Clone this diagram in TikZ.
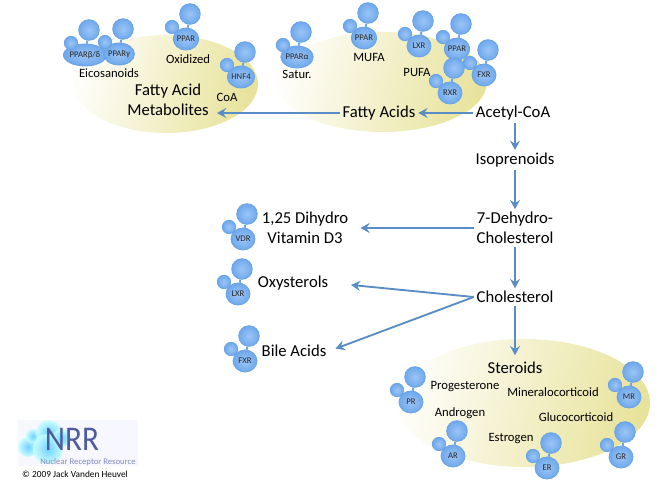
\documentclass[tikz,border=0pt]{standalone}
\usepackage{fontspec}
\setmainfont{Carlito}
\usetikzlibrary{shapes.geometric,arrows.meta}
\definecolor{recblue}{HTML}{6EA8EC}
\definecolor{reclight}{HTML}{9CC5F5}
\definecolor{recedge}{HTML}{6AA3E4}
\definecolor{pathblue}{HTML}{5A8CC6}
\definecolor{poolyellow}{HTML}{E8E39C}
\definecolor{logoink}{HTML}{4F5B9E}

% receptor: name, centre of body, label
\newcommand\receptor[3]{
    \node at (#2) [recbody] (#1) {#3};
    \node at ([shift={(4,-25)}]#1.center) [recbig] (#1big) {};
    \node at ([shift={(-14,-12)}]#1.center) [recsmall] (#1small) {};
    \draw[recedge, line width=1.4pt] (#1) -- (#1big);
}

\begin{document}
\begin{tikzpicture}[x=0.75pt, y=-0.75pt,
    recbody/.style={ellipse, draw=recedge, line width=0.6pt, inner color=reclight, outer color=recblue, minimum width=18pt, minimum height=16.5pt, inner sep=0pt, font=\fontsize{6.5}{6.5}\selectfont, text=black!85},
    recbig/.style={circle, draw=recedge, line width=0.6pt, inner color=reclight, outer color=recblue, minimum size=15.5pt, inner sep=0pt},
    recsmall/.style={circle, draw=recedge, line width=0.6pt, inner color=reclight, outer color=recblue, minimum size=10pt, inner sep=0pt},
    pool/.style={ellipse, shading=axis, left color=poolyellow!6, middle color=poolyellow!30, right color=poolyellow, shading angle=75, inner sep=0pt},
    met/.style={font=\fontsize{12.5}{15}\selectfont, align=center, inner sep=2pt},
    lig/.style={font=\fontsize{9.5}{11}\selectfont, inner sep=0pt},
    path/.style={-{Stealth[length=7pt, width=7.5pt, inset=2.5pt]}, pathblue, line width=1.4pt}]
    \useasboundingbox (0,0) rectangle (660,485);

    %Pools
    \node at (166,84) [pool, minimum width=138pt, minimum height=73.5pt] (metpool) {};
    \node at (382,82) [pool, minimum width=157.5pt, minimum height=75pt] (acidpool) {};
    \node at (524,403) [pool, minimum width=189pt, minimum height=96pt] (steroidpool) {};

    %Receptors
    \foreach \name/\px/\py/\txt in {pbd/85/55/{PPARβ/δ}, pg/119/54/PPARγ, po/186/39/PPAR, hnf/241/77/HNF4,
        pa/297/57/PPARα, pm/364/38/PPAR, lxa/419/46/LXR, pu/457/49/PPAR, fxa/484/75/FXR, rxr/450/93/RXR,
        vdr/243/239/VDR, lxb/238/294/LXR, fxb/245/361/FXR,
        pr/411/402/PR, ar/453/456/AR, er/547/468/ER, gr/621/457/GR, mr/629/397/MR}
        {\receptor{\name}{\px,\py}{\txt}}

    %Ligands
    \node at (109,73) [lig] (eico) {Eicosanoids};
    \node at (188,59) [lig] (oxid) {Oxidized};
    \node at (227,97) [lig] (coa) {CoA};
    \node at (297,74) [lig] (satur) {Satur.};
    \node at (369,57) [lig] (mufa) {MUFA};
    \node at (417,72) [lig] (pufa) {PUFA};
    \node at (465,387) [lig] (prog) {Progesterone};
    \node at (553,392) [lig] (miner) {Mineralocorticoid};
    \node at (460,413) [lig] (andro) {Androgen};
    \node at (576,417) [lig] (gluco) {Glucocorticoid};
    \node at (511,439) [lig] (estro) {Estrogen};

    %Metabolites
    \node at (168,100) [met] (metab) {Fatty Acid\\Metabolites};
    \node at (379,113) [met] (acids) {Fatty Acids};
    \node at (513,113) [met] (acetyl) {Acetyl-CoA};
    \node at (515,160) [met] (iso) {Isoprenoids};
    \node at (515,228) [met] (dehydro) {7-Dehydro-\\Cholesterol};
    \node at (515,297) [met] (chol) {Cholesterol};
    \node at (305,228) [met] (vitd) {1,25 Dihydro\\Vitamin D3};
    \node at (293,283) [met] (oxy) {Oxysterols};
    \node at (294,351) [met] (bile) {Bile Acids};
    \node at (515,368) [met] (steroids) {Steroids};

    \draw[path] (acetyl.west) -- (acids.east);
    \draw[path, shorten >=4pt] (acids.west) -- (acids.west -| metab.east);
    \draw[path] (acetyl.south -| iso.north) -- (iso.north);
    \draw[path] (iso.south) -- (dehydro.north);
    \draw[path] (dehydro.south) -- (chol.north);
    \draw[path, shorten >=7pt] (dehydro.west) -- (dehydro.west -| vitd.east);
    \draw[path, shorten >=15pt] (chol.west) -- (oxy.east);
    \draw[path, shorten >=5pt] (chol.west) -- (bile.east);
    \draw[path, shorten >=3pt] (chol.south) -- (steroids.north);

    %Logo
    \node at (78,443) [rectangle, fill=blue!3, minimum width=90pt, minimum height=35pt, inner sep=0pt] (logobox) {};
    \foreach \name/\px/\py/\rad in {la/28/447/10, lb/33/436/7, lc/49/433/13, ld/48/449/15, le/62/438/9}
        \node at (\px,\py) [circle, inner color=cyan!70!blue!70, outer color=cyan!22, opacity=0.8, minimum size=\rad*1.5pt, inner sep=0pt] (\name) {};
    \node at (72,439) [font=\fontsize{26}{26}\selectfont, text=logoink, inner sep=0pt, xscale=0.9] (logoname) {NRR};
    \node at (88,462) [font=\fontsize{6.5}{7}\selectfont, text=logoink!70, inner sep=0pt] (logotext) {Nuclear Receptor Resource};
    \node at (75,474) [font=\fontsize{7}{8}\selectfont, inner sep=0pt] (copyright) {© 2009 Jack Vanden Heuvel};
\end{tikzpicture}
\end{document}
